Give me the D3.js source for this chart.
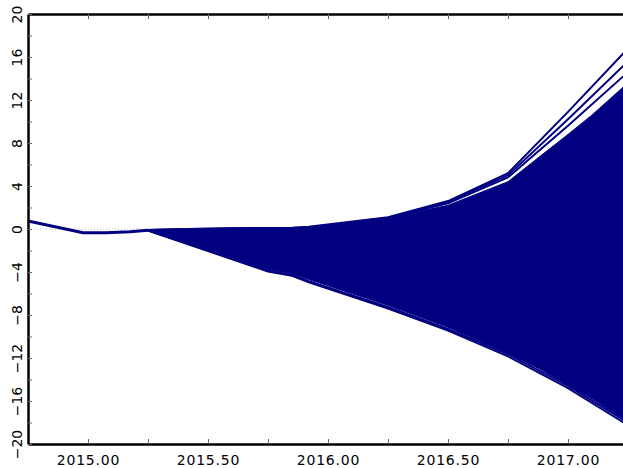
<!DOCTYPE html>
<html>
<head>
<meta charset="utf-8">
<script src="https://cdn.jsdelivr.net/npm/d3@7"></script>
<style>
  body { margin: 0; background: #fff; }
  svg { display: block; }
  .tick text { font-family: "DejaVu Sans", sans-serif; font-size: 14px; fill: #000; }
</style>
</head>
<body>
<svg id="chart"></svg>
<script>
// observed history, then the fan of simulated forecast paths
var histTimes  = [2014.75, 2014.98, 2015.075, 2015.175, 2015.25];
var histValues = [0.75, -0.35, -0.35, -0.25, -0.12];

var fcTimes = [2015.25, 2015.5, 2015.75, 2015.85, 2015.92, 2016.25, 2016.5, 2016.75, 2017.0, 2017.25];

// envelope of the dense bulk of the paths
var bandTimes = [2015.25, 2015.5, 2015.75, 2015.85, 2015.92, 2016.25, 2016.5, 2016.75, 2016.88, 2017.0, 2017.1, 2017.25];
var bandUpper = [-0.1, 0.05, 0.1, 0.1, 0.12, 1.0, 2.2, 4.4, 6.7, 8.8, 10.6, 13.6];
var bandLower = [-0.15, -1.9, -3.75, -4.15, -4.7, -7.1, -9.15, -11.55, -13.0, -14.5, -15.8, -17.9];

// the outlying paths that stand apart from the bulk
var pathTop1 = [-0.1, 0.05, 0.1, 0.12, 0.2, 1.1, 2.6, 5.2, 10.9, 16.8];
var pathTop2 = [-0.1, 0.0, 0.1, 0.1, 0.15, 1.05, 2.5, 5.0, 10.2, 15.6];
var pathTop3 = [-0.1, 0.0, 0.05, 0.1, 0.1, 1.0, 2.4, 4.8, 9.6, 14.6];
var pathLow1 = [-0.15, -2.05, -3.95, -4.35, -4.95, -7.4, -9.45, -11.85, -14.8, -18.25];
var pathLow2 = [-0.15, -2.0, -3.85, -4.25, -4.85, -7.25, -9.3, -11.65, -14.6, -18.0];

var xTicks = [2015, 2015.25, 2015.5, 2015.75, 2016, 2016.25, 2016.5, 2016.75, 2017];
var xLabelled = [2015, 2015.5, 2016, 2016.5, 2017];
var yTicks = [-20, -18, -16, -14, -12, -10, -8, -6, -4, -2, 0, 2, 4, 6, 8, 10, 12, 14, 16, 18, 20];
var yLabelled = [-20, -16, -12, -8, -4, 0, 4, 8, 12, 16, 20];

var width = 623, height = 468;
var margin = { top: 14, right: -5, bottom: 24, left: 28 };
var navy = "#000080";

var svg = d3.select("#chart")
    .attr("width", width)
    .attr("height", height);

// set the ranges
var x = d3.scaleLinear().domain([2014.75, 2017.25]).range([margin.left, width - margin.right]);
var y = d3.scaleLinear().domain([-20, 20]).range([height - margin.bottom, margin.top]);

var plot = svg.append("g");

// zero reference line
plot.append("line")
    .attr("x1", x(2014.75)).attr("x2", width)
    .attr("y1", y(0)).attr("y2", y(0))
    .attr("stroke", "#bbb")
    .attr("stroke-width", 1)
    .attr("stroke-dasharray", "1,2");

var band = bandTimes.map(function (t, i) { return { t: t, lo: bandLower[i], hi: bandUpper[i] }; });

var area = d3.area()
    .x(function (d) { return x(d.t); })
    .y0(function (d) { return y(d.lo); })
    .y1(function (d) { return y(d.hi); });

plot.append("path")
    .datum(band)
    .attr("d", area)
    .attr("fill", navy)
    .attr("stroke", navy)
    .attr("stroke-width", 1);

var line = d3.line()
    .x(function (d) { return x(d[0]); })
    .y(function (d) { return y(d[1]); });

var outliers = [pathTop1, pathTop2, pathTop3, pathLow1, pathLow2];
outliers.forEach(function (vals) {
    plot.append("path")
        .datum(fcTimes.map(function (t, i) { return [t, vals[i]]; }))
        .attr("d", line)
        .attr("fill", "none")
        .attr("stroke", navy)
        .attr("stroke-width", 2);
});

// Add the history line
plot.append("path")
    .datum(histTimes.map(function (t, i) { return [t, histValues[i]]; }))
    .attr("d", line)
    .attr("fill", "none")
    .attr("stroke", navy)
    .attr("stroke-width", 3)
    .attr("stroke-linejoin", "round");

// Add the X Axis
var xAxis = svg.append("g")
    .attr("transform", "translate(0," + y(-20) + ")")
    .call(d3.axisBottom(x)
        .tickValues(xTicks)
        .tickSizeInner(-5)
        .tickSizeOuter(0)
        .tickPadding(11)
        .tickFormat(function (v) { return xLabelled.indexOf(v) >= 0 ? d3.format(".2f")(v) : ""; }));
xAxis.select(".domain").attr("stroke", "#000").attr("stroke-width", 2.5);
xAxis.selectAll(".tick line").attr("stroke", "#666");
xAxis.selectAll(".tick text").style("letter-spacing", "0.8px");

// top frame with inward ticks
var topAxis = svg.append("g")
    .attr("transform", "translate(0," + y(20) + ")")
    .call(d3.axisTop(x).tickValues(xTicks).tickSizeInner(-5).tickSizeOuter(0).tickFormat(""));
topAxis.select(".domain").attr("stroke", "#000").attr("stroke-width", 2.5);
topAxis.selectAll(".tick line").attr("stroke", "#666");

// Add the Y Axis
var yAxis = svg.append("g")
    .attr("transform", "translate(" + x(2014.75) + ",0)")
    .call(d3.axisLeft(y)
        .tickValues(yTicks)
        .tickSizeInner(-4)
        .tickSizeOuter(0)
        .tickFormat(function (v) { return yLabelled.indexOf(v) >= 0 ? d3.format("d")(v) : ""; }));
yAxis.select(".domain").attr("stroke", "#000").attr("stroke-width", 2.5);
yAxis.selectAll(".tick line").attr("stroke", "#666");
yAxis.selectAll(".tick text")
    .attr("transform", "rotate(-90)")
    .attr("text-anchor", "middle")
    .attr("x", 0)
    .attr("y", -6)
    .attr("dy", 0);
</script>
</body>
</html>
